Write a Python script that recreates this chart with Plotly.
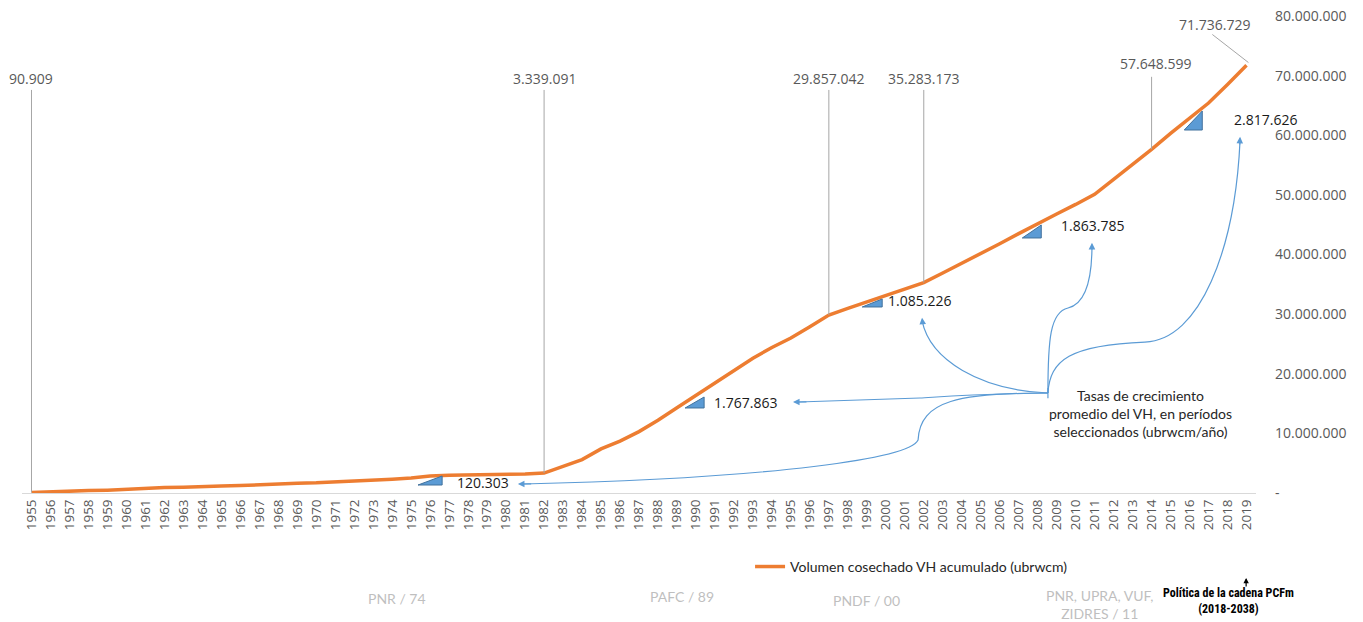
import plotly.graph_objects as go

# ---------------- data ----------------
years = list(range(1955, 2020))
volume = [
    90909, 150000, 200000, 400000, 480000, 660000, 750000, 920000, 980000, 1020000,
    1180000, 1250000, 1420000, 1480000, 1630000, 1700000, 1840000, 1920000, 2120000, 2300000,
    2500000, 2850000, 2980000, 3020000, 3140000, 3180000, 3200000, 3339091, 4500000, 5600000,
    7400000, 8700000, 10300000, 12200000, 14300000, 16400000, 18500000, 20600000, 22600000, 24400000,
    26000000, 27900000, 29857042, 30950000, 32000000, 33100000, 34200000, 35283173, 36900000, 38500000,
    40100000, 41800000, 43500000, 45200000, 46800000, 48400000, 50100000, 52600000, 55100000, 57648599,
    60300000, 62900000, 65400000, 68500000, 71736729,
]
labeled_years = [1955, 1982, 1997, 2002, 2014, 2019]
rates = [120303, 1767863, 1085226, 1863785, 2817626]
y_ticks = [0, 10e6, 20e6, 30e6, 40e6, 50e6, 60e6, 70e6, 80e6]
policies = ["PNR / 74", "PAFC / 89", "PNDF / 00", "PNR, UPRA, VUF,<br>ZIDRES / 11"]
series_name = "Volumen cosechado VH acumulado (ubrwcm)"


def fmt(n):
    return "-" if n == 0 else f"{int(n):,}".replace(",", ".")


ORANGE = "#ED7D31"
BLUE = "#5B9BD5"
GRAY = "#595959"
NUMFONT = "Open Sans, DejaVu Sans, sans-serif"
CALIBRI = "Lato, Open Sans, sans-serif"

fig = go.Figure()
fig.add_trace(go.Scatter(
    x=years, y=volume, mode="lines", name=series_name,
    line=dict(color=ORANGE, width=3.5), hoverinfo="skip",
))

shapes = []
annotations = []

# ---- leader lines and value labels ----
val = dict(zip(years, volume))
top_lbl = {1955: (1955, 69.6e6, 1955, 67.6e6),
           1982: (1982, 69.6e6, 1982, 67.6e6),
           1997: (1997, 69.6e6, 1997, 67.6e6),
           2002: (2002, 69.6e6, 2002, 67.6e6),
           2014: (2014.2, 72.0e6, 2014, 69.8e6)}
for yr in labeled_years[:-1]:
    lx, ly, tx, ty = top_lbl[yr]
    shapes.append(dict(type="line", xref="x", yref="y", x0=yr, x1=tx,
                       y0=val[yr], y1=ty, line=dict(color="#A6A6A6", width=1)))
    annotations.append(dict(x=lx, y=ly, xref="x", yref="y", text=fmt(val[yr]),
                            showarrow=False, font=dict(family=NUMFONT, size=14, color=GRAY)))
# last point label with diagonal leader
shapes.append(dict(type="line", xref="x", yref="y", x0=2019.1, y0=72.2e6,
                   x1=2017.2, y1=76.9e6, line=dict(color="#A6A6A6", width=1)))
annotations.append(dict(x=2017.3, y=78.6e6, xref="x", yref="y", text=fmt(val[2019]),
                        showarrow=False, font=dict(family=NUMFONT, size=14, color=GRAY)))

# ---- slope triangles and rate labels ----
tri = [  # (x_left, x_right, y_bottom, y_top)
    (1975.36, 1976.63, 1.34e6, 2.85e6),
    (1989.43, 1990.43, 14.26e6, 16.1e6),
    (1998.76, 1999.81, 31.2e6, 32.54e6),
    (2007.19, 2008.19, 42.77e6, 44.95e6),
    (2015.72, 2016.67, 60.88e6, 64.07e6),
]
rate_pos = [(1978.8, 1.8e6), (1992.6, 15.2e6), (2001.8, 32.3e6), (2010.9, 44.8e6), (2019.45, 62.6e6)]
for (xl, xr, yb, yt), r, (px, py) in zip(tri, rates, rate_pos):
    shapes.append(dict(type="path", xref="x", yref="y",
                       path=f"M {xl},{yb} L {xr},{yb} L {xr},{yt} Z",
                       fillcolor=BLUE, line=dict(color="#41719C", width=1)))
    annotations.append(dict(x=px, y=py, xref="x", yref="y", text=fmt(r), showarrow=False,
                            xanchor="right" if px > 2019 else "center", xshift=44 if px > 2019 else 0,
                            font=dict(family=NUMFONT, size=14, color="#1a1a1a")))

# ---- curved connectors from the note to the rate labels ----
M = 1e6
paths = [
    f"M 2008.54,{16.77*M} C 2003.9,{16.77*M} 2001.8,{15.6*M} 2001.7,{8.89*M} "
    f"C 2001.27,{5.87*M} 1994.43,{2.52*M} 1980.9,{1.51*M}",
    f"M 2008.54,{16.77*M} C 2003.91,{16.6*M} 2002.5,{16.0*M} 2001.8,{15.93*M} L 1995.4,{15.26*M}",
    f"M 2008.54,{16.77*M} C 2004.96,{17.27*M} 2002.33,{22.31*M} 2001.91,{28.9*M}",
    f"M 2008.54,{16.77*M} C 2008.54,{25.66*M} 2008.65,{30.36*M} 2009.6,{31.03*M} "
    f"C 2010.49,{31.7*M} 2010.86,{35.72*M} 2010.86,{41.5*M}",
    f"M 2008.54,{16.77*M} C 2008.65,{22.31*M} 2009.7,{24.82*M} 2013.65,{25.32*M} "
    f"C 2016.55,{25.66*M} 2018.39,{40.75*M} 2018.66,{59.1*M}",
]
for p in paths:
    shapes.append(dict(type="path", xref="x", yref="y", path=p,
                       line=dict(color=BLUE, width=1.2)))
shapes.append(dict(type="line", xref="x", yref="y", x0=2008.54, x1=2008.54,
                   y0=15.9e6, y1=17.6e6, line=dict(color=BLUE, width=1.2)))

heads = [  # (tip_x, tip_y, tail_x, tail_y)
    (1980.62, 1.51e6, 1981.4, 1.53e6),
    (1995.11, 15.26e6, 1995.9, 15.28e6),
    (2001.91, 29.4e6, 2001.95, 28.2e6),
    (2010.86, 41.95e6, 2010.86, 40.6e6),
    (2018.66, 59.75e6, 2018.64, 58.2e6),
]
for tx, ty, ax, ay in heads:
    annotations.append(dict(x=tx, y=ty, ax=ax, ay=ay, xref="x", yref="y", axref="x", ayref="y",
                            text="", showarrow=True, arrowhead=2, arrowsize=1.1,
                            arrowwidth=1.2, arrowcolor=BLUE))

annotations.append(dict(x=2013.39, y=13.3e6, xref="x", yref="y",
                        text="Tasas de crecimiento<br>promedio del VH, en períodos<br>seleccionados (ubrwcm/año)",
                        showarrow=False, align="center",
                        font=dict(family=CALIBRI, size=14, color="#262626")))

# ---- bottom policy labels ----
pol_pos = [(0.304, -0.221), (0.535, -0.217), (0.684, -0.225), (0.873, -0.234)]
for t, (px, py) in zip(policies, pol_pos):
    annotations.append(dict(x=px, y=py, xref="paper", yref="paper", text=t, showarrow=False,
                            xanchor="center", yanchor="middle",
                            align="center", font=dict(family=CALIBRI, size=14, color="#BFBFBF")))
annotations.append(dict(x=0.978, y=-0.226, xref="paper", yref="paper",
                        text="<b>Política de la cadena PCFm<br>(2018-2038)</b>", showarrow=False,
                        align="center", xanchor="center", yanchor="middle",
                        font=dict(family="Liberation Sans Narrow, Roboto Condensed, Roboto, sans-serif",
                                  size=12, color="#000000")))
annotations.append(dict(x=0.992, y=-0.178, xref="paper", yref="paper", ax=0, ay=10,
                        text="", showarrow=True, arrowhead=2, arrowsize=0.9, arrowwidth=1.2,
                        arrowcolor="#000000"))

fig.update_layout(
    width=1363, height=622,
    margin=dict(l=22, r=107, t=16, b=129, autoexpand=False),
    paper_bgcolor="white", plot_bgcolor="white",
    shapes=shapes, annotations=annotations,
    showlegend=True,
    legend=dict(x=0.59, y=-0.155, xanchor="left", yanchor="middle", orientation="h",
                font=dict(family=CALIBRI, size=14, color="#262626"), bgcolor="rgba(0,0,0,0)"),
    xaxis=dict(range=[1954.5, 2019.5], tickmode="array", tickvals=years,
               ticktext=[str(y) for y in years], tickangle=-90, automargin=False,
               tickfont=dict(family=NUMFONT, size=13.5, color=GRAY),
               showgrid=False, zeroline=False, showline=True, linecolor="#D9D9D9", linewidth=1,
               ticks=""),
    yaxis=dict(side="right", range=[0, 80e6], tickmode="array", tickvals=y_ticks,
               ticktext=[fmt(v) for v in y_ticks], automargin=False,
               tickfont=dict(family=NUMFONT, size=14, color=GRAY),
               showgrid=False, zeroline=False, showline=False, ticks="",
               ticklabelstandoff=18, ticklabeloverflow="allow"),
)

# remove the default 8px page margin so the figure fills the window exactly
fig.write_html("out.html", config={"displayModeBar": False},
               post_script="document.body.style.margin='0';")
